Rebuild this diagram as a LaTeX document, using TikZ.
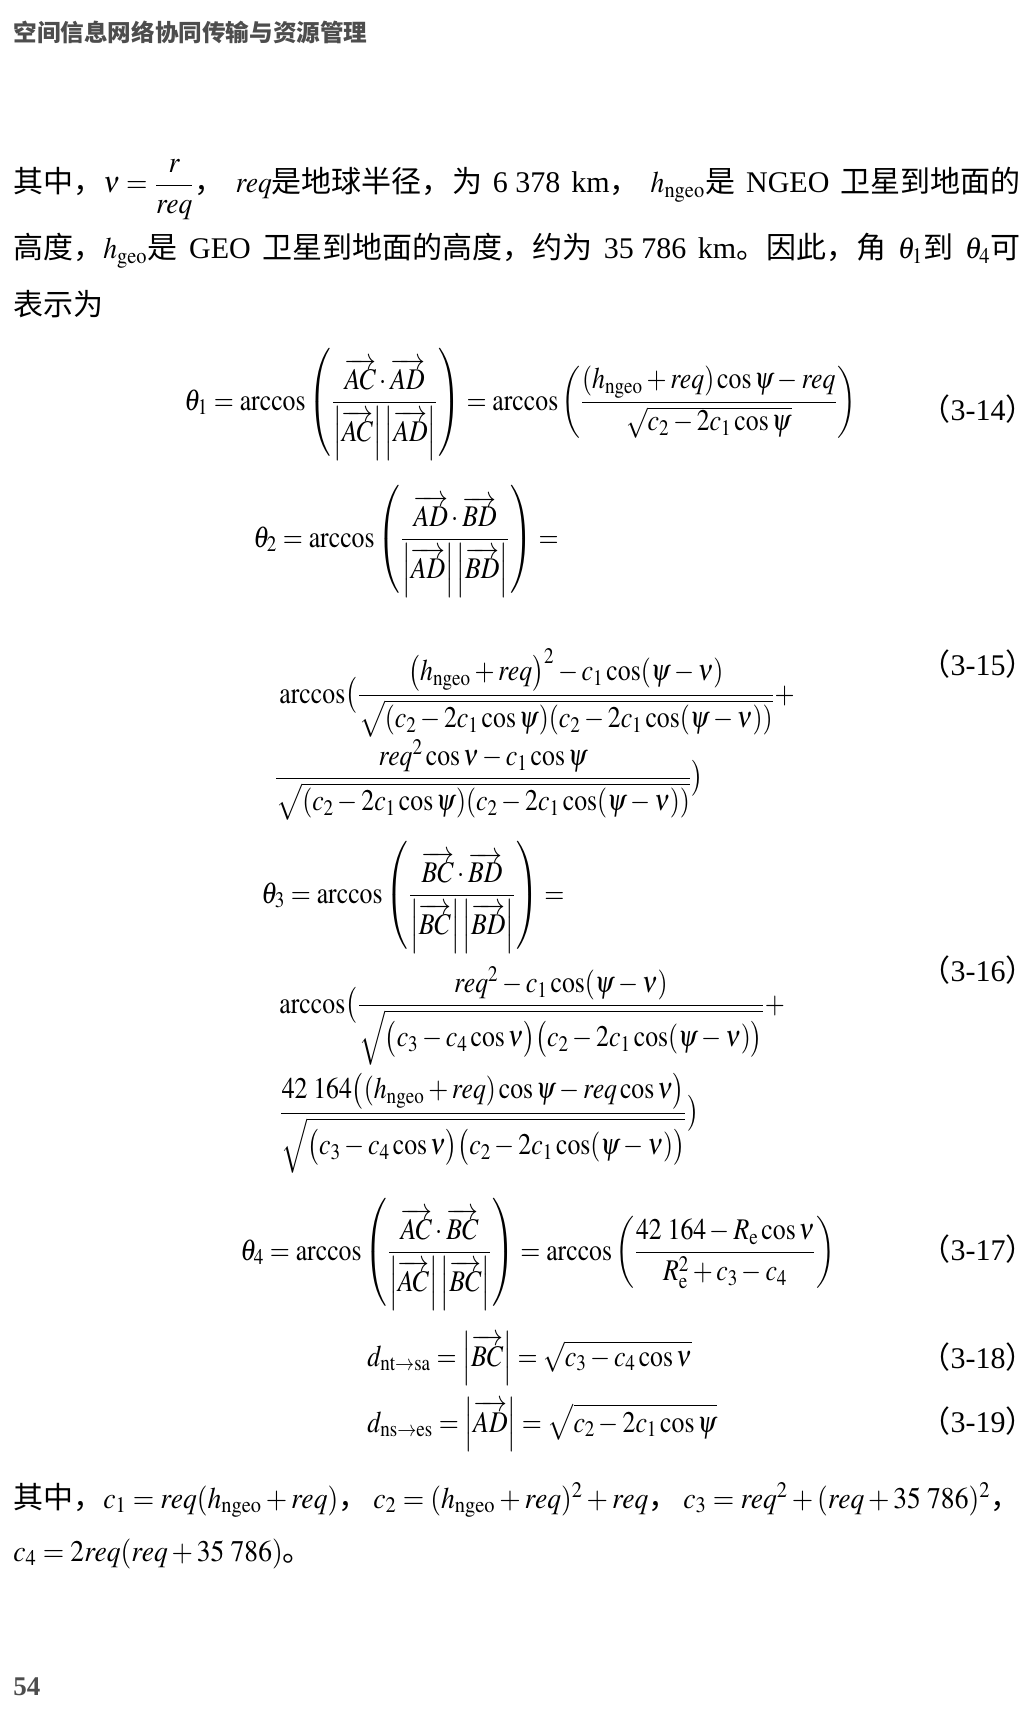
\documentclass[tikz,border=0pt]{standalone}
\usepackage{amsmath}
\usepackage{mathptmx}
\usepackage{graphicx}
\usepackage[no-math]{fontspec}
\setmainfont{Liberation Serif}
\newfontfamily\cjk{Noto Sans CJK SC}
\usetikzlibrary{positioning}
\definecolor{headgray}{HTML}{4D4D4D}
\newcommand{\zh}[1]{{\cjk #1}}
\newcommand{\cm}[1]{\scalebox{0.92}[1]{$#1$}}
\newcommand{\dm}[1]{\scalebox{0.86}[1]{$\displaystyle #1$}}
\newcommand{\ngeo}{\mathrm{ngeo}}
\newcommand{\vect}[1]{\overrightarrow{#1}}
\newcommand{\vabs}[1]{\left|\overrightarrow{#1}\right|}
\tikzset{
  body/.style={anchor=base west, inner sep=0pt, font=\fontsize{15}{18}\selectfont},
  eqn/.style={anchor=base west, inner sep=0pt, font=\fontsize{15}{18}\selectfont},
  eqno/.style={anchor=base east, inner sep=0pt, font=\fontsize{15}{18}\selectfont},
  head/.style={anchor=west, inner sep=0pt, text=headgray, font=\fontsize{11.8}{14}\selectfont\bfseries},
}
\begin{document}
\begin{tikzpicture}[x=0.5pt,y=-0.5pt]
            \useasboundingbox (0,0) rectangle (1033,1717);
            \draw (13,32) node[head]                  (title) {\zh{空间信息网络协同传输与资源管理}};
            \draw (13,193) node[body]                 (l1) {\makebox[503.5pt][s]{\zh{其中，}\cm{\nu=\dfrac{r}{req}}\zh{，} \cm{req}\zh{是地球半径，为} 6\hspace{.25em}378 km\zh{，} \cm{h_{\ngeo}}\zh{是} NGEO \zh{卫星到地面的}}};
            \draw (13,259) node[body]                 (l2) {\makebox[503.5pt][s]{\zh{高度，}\cm{h_{\mathrm{geo}}}\zh{是} GEO \zh{卫星到地面的高度，约为} 35\hspace{.25em}786 km\zh{。因此，角} \cm{\theta_1}\zh{到} \cm{\theta_4}\zh{可}}};
            \draw (13,316) node[body]                 (l3) {\zh{表示为}};
            \draw (184,410) node[eqn]                 (e14) {\dm{\theta_1=\arccos\left(\frac{\vect{AC}\cdot\vect{AD}}{\vabs{AC}\vabs{AD}}\right)=\arccos\left(\frac{(h_{\ngeo}+req)\cos\psi-req}{\sqrt{c_2-2c_1\cos\psi}}\right)}};
            \draw (1036,420) node[eqno]               (n14) {\zh{（}3-14\zh{）}};
            \draw (253,547) node[eqn]                 (e15a) {\dm{\theta_2=\arccos\left(\frac{\vect{AD}\cdot\vect{BD}}{\vabs{AD}\vabs{BD}}\right)=}};
            \draw (279,703) node[eqn]                 (e15b) {\dm{\arccos\bigl(\frac{\bigl(h_{\ngeo}+req\bigr)^2-c_1\cos(\psi-\nu)}{\sqrt{(c_2-2c_1\cos\psi)(c_2-2c_1\cos(\psi-\nu))}}+}};
            \draw (274,786) node[eqn]                 (e15c) {\dm{\frac{req^2\cos\nu-c_1\cos\psi}{\sqrt{(c_2-2c_1\cos\psi)(c_2-2c_1\cos(\psi-\nu))}}\bigr)}};
            \draw (1036,675) node[eqno]               (n15) {\zh{（}3-15\zh{）}};
            \draw (261,903) node[eqn]                 (e16a) {\dm{\theta_3=\arccos\left(\frac{\vect{BC}\cdot\vect{BD}}{\vabs{BC}\vabs{BD}}\right)=}};
            \draw (279,1013) node[eqn]                (e16b) {\dm{\arccos\bigl(\frac{req^2-c_1\cos(\psi-\nu)}{\sqrt{\bigl(c_3-c_4\cos\nu\bigr)\bigl(c_2-2c_1\cos(\psi-\nu)\bigr)}}+}};
            \draw (279,1121) node[eqn]                (e16c) {\dm{\frac{42\;164\bigl((h_{\ngeo}+req)\cos\psi-req\cos\nu\bigr)}{\sqrt{\bigl(c_3-c_4\cos\nu\bigr)\bigl(c_2-2c_1\cos(\psi-\nu)\bigr)}}\bigr)}};
            \draw (1036,981) node[eqno]               (n16) {\zh{（}3-16\zh{）}};
            \draw (240,1260) node[eqn]                (e17) {\dm{\theta_4=\arccos\left(\frac{\vect{AC}\cdot\vect{BC}}{\vabs{AC}\vabs{BC}}\right)=\arccos\left(\frac{42\;164-R_{\mathrm{e}}\cos\nu}{R_{\mathrm{e}}^2+c_3-c_4}\right)}};
            \draw (1036,1260) node[eqno]              (n17) {\zh{（}3-17\zh{）}};
            \draw (367,1366) node[eqn]                (e18) {\dm{d_{\mathrm{nt}\to\mathrm{sa}}=\vabs{BC}=\sqrt{c_3-c_4\cos\nu}}};
            \draw (1036,1368) node[eqno]              (n18) {\zh{（}3-18\zh{）}};
            \draw (367,1432) node[eqn]                (e19) {\dm{d_{\mathrm{ns}\to\mathrm{es}}=\vabs{AD}=\sqrt{c_2-2c_1\cos\psi}}};
            \draw (1036,1432) node[eqno]              (n19) {\zh{（}3-19\zh{）}};
            \draw (13,1508) node[body]                (l4) {\makebox[503.5pt][s]{\zh{其中，}\cm{c_1=req(h_{\ngeo}+req)}\zh{，} \cm{c_2=(h_{\ngeo}+req)^2+req}\zh{，} \cm{c_3=req^2+(req+35\;786)^2}\zh{，}}};
            \draw (13,1561) node[body]                (l5) {\cm{c_4=2req(req+35\;786)}\zh{。}};
            \draw (13,1687) node[head, font=\fontsize{13.5}{16}\selectfont\bfseries] (page) {54};
\end{tikzpicture}
\end{document}
